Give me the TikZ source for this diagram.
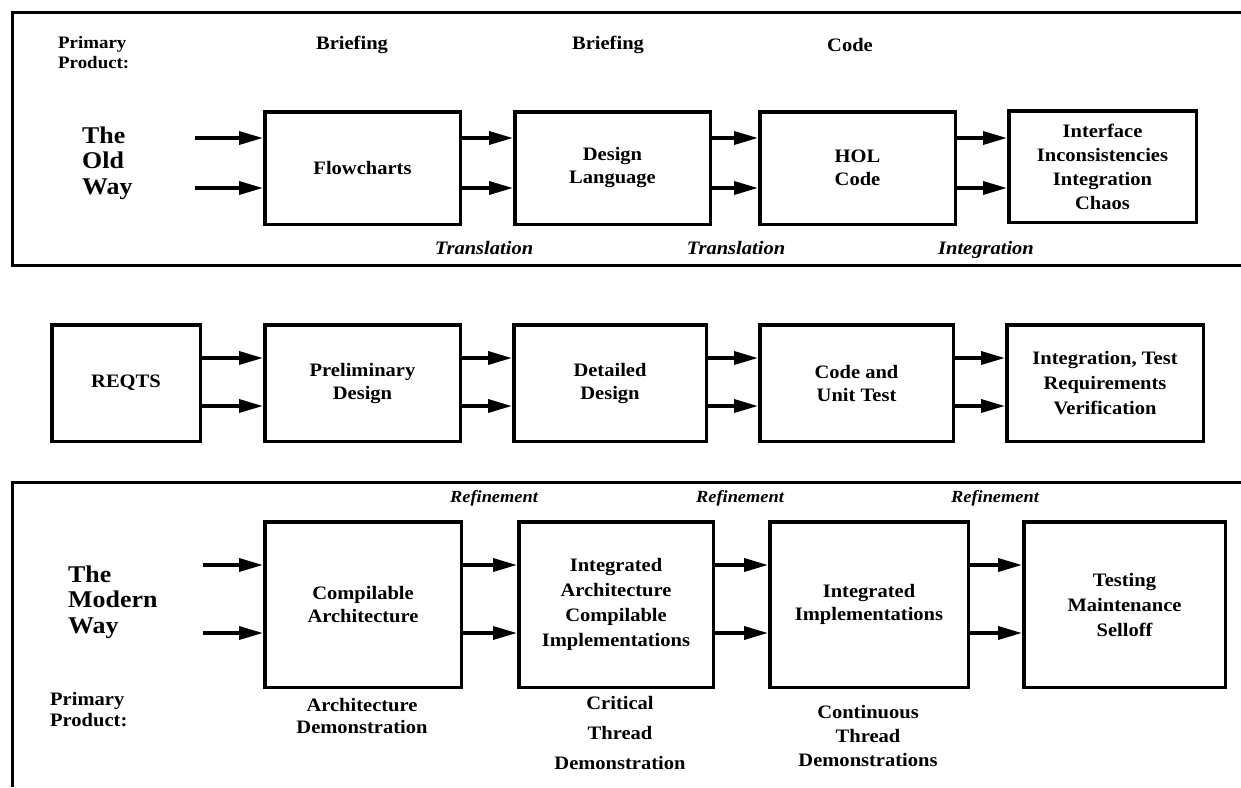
\documentclass[tikz,border=0pt]{standalone}
\usepackage{fontspec}
\setmainfont{Liberation Serif}[FakeStretch=1.08]
\usetikzlibrary{arrows.meta}
\newcommand\boxfont{\fontsize{19}{23}\selectfont\bfseries}
\newcommand\itfont{\fontsize{19}{23}\selectfont\bfseries\itshape}
\newcommand\reffont{\fontsize{17}{20}\selectfont\bfseries\itshape}
\newcommand\wayfont{\fontsize{24}{25.5}\selectfont\bfseries}
\begin{document}
\begin{tikzpicture}[x=1pt,y=-1pt,
  box/.style={draw, line width=3.5pt, inner sep=0pt, align=center, font=\boxfont},
  lbl/.style={inner sep=0pt, align=center, font=\boxfont},
  itl/.style={inner sep=0pt, font=\itfont},
  ref/.style={inner sep=0pt, font=\reffont},
  way/.style={inner sep=0pt, align=left, anchor=west, font=\wayfont},
  frame/.style={line width=3pt},
  arr/.style={line width=3.5pt, -{Triangle[length=24pt,width=13pt]}}]
\useasboundingbox (0,0) rectangle (1241,787);
% frames
\draw[frame] (1241,12) -- (12,12) -- (12,265) -- (1241,265);
\draw[frame] (1241,482) -- (12,482) -- (12,787);
% row coordinates
\coordinate (r1a) at (0,138);
\coordinate (r1b) at (0,188);
\coordinate (r2a) at (0,358);
\coordinate (r2b) at (0,406);
\coordinate (r3a) at (0,565);
\coordinate (r3b) at (0,633);
\coordinate (in1a) at (195,138);
\coordinate (in1b) at (195,188);
\coordinate (in3a) at (203,565);
\coordinate (in3b) at (203,633);
% top row
\node[box, minimum width=195.5pt, minimum height=112.5pt] (flow) at (362.5,168) {Flowcharts};
\node[box, minimum width=195.5pt, minimum height=112.5pt] (dl) at (612.5,168) {Design\\Language};
\node[box, minimum width=195.5pt, minimum height=112.5pt] (hol) at (857.5,168) {HOL\\Code};
\node[box, minimum width=187.5pt, minimum height=111.5pt, font=\fontsize{19}{24}\selectfont\bfseries] (intf) at (1102.5,166.5) {Interface\\Inconsistencies\\Integration\\Chaos};
% middle row
\node[box, minimum width=148.5pt, minimum height=116.5pt] (reqts) at (126,383) {REQTS};
\node[box, minimum width=195.5pt, minimum height=116.5pt] (prel) at (362.5,383) {Preliminary\\Design};
\node[box, minimum width=192.5pt, minimum height=116.5pt] (det) at (610,383) {Detailed\\Design};
\node[box, minimum width=193.5pt, minimum height=116.5pt] (cut) at (856.5,383) {Code and\\Unit Test};
\node[box, minimum width=196.5pt, minimum height=116.5pt, font=\fontsize{19}{25}\selectfont\bfseries] (itr) at (1105,383) {Integration, Test\\Requirements\\Verification};
% bottom row
\node[box, minimum width=196.5pt, minimum height=165.5pt] (comp) at (363,604.5) {Compilable\\Architecture};
\node[box, minimum width=194.5pt, minimum height=165.5pt, font=\fontsize{19}{25}\selectfont\bfseries] (iac) at (616,604.5) {Integrated\\Architecture\\Compilable\\Implementations};
\node[box, minimum width=198.5pt, minimum height=165.5pt] (ii) at (869,604.5) {Integrated\\Implementations};
\node[box, minimum width=201.5pt, minimum height=165.5pt, font=\fontsize{19}{25}\selectfont\bfseries] (tms) at (1124.5,604.5) {Testing\\Maintenance\\Selloff};
% top labels
\node[lbl, align=left, anchor=west, font=\fontsize{17.5}{20}\selectfont\bfseries] (prod1) at (58,53) {Primary\\Product:};
\node[lbl] (brief1) at (352,45) {Briefing};
\node[lbl] (brief2) at (608,45) {Briefing};
\node[lbl] (code) at (850,45) {Code};
\node[way] (old) at (82,163) {The\\Old\\Way};
\node[itl] (tr1) at (484,248) {Translation};
\node[itl] (tr2) at (736,248) {Translation};
\node[itl] (integ) at (986,249.5) {Integration};
% bottom labels
\node[ref] (rf1) at (494,498) {Refinement};
\node[ref] (rf2) at (740,498) {Refinement};
\node[ref] (rf3) at (995,498) {Refinement};
\node[way] (modern) at (68,602) {The\\Modern\\Way};
\node[lbl, align=left, anchor=west, font=\fontsize{19}{21}\selectfont\bfseries] (prod2) at (50,710) {Primary\\Product:};
\node[lbl, font=\fontsize{19}{22}\selectfont\bfseries] (archd) at (362,716) {Architecture\\Demonstration};
\node[lbl, font=\fontsize{19}{30}\selectfont\bfseries] (crit) at (620,733) {Critical\\Thread\\Demonstration};
\node[lbl, font=\fontsize{19}{24}\selectfont\bfseries] (cont) at (868,736) {Continuous\\Thread\\Demonstrations};
% arrows top
\draw[arr] (in1a) -- (flow.west |- r1a);
\draw[arr] (in1b) -- (flow.west |- r1b);
\draw[arr] (flow.east |- r1a) -- (dl.west |- r1a);
\draw[arr] (flow.east |- r1b) -- (dl.west |- r1b);
\draw[arr] (dl.east |- r1a) -- (hol.west |- r1a);
\draw[arr] (dl.east |- r1b) -- (hol.west |- r1b);
\draw[arr] (hol.east |- r1a) -- (intf.west |- r1a);
\draw[arr] (hol.east |- r1b) -- (intf.west |- r1b);
% arrows middle
\draw[arr] (reqts.east |- r2a) -- (prel.west |- r2a);
\draw[arr] (reqts.east |- r2b) -- (prel.west |- r2b);
\draw[arr] (prel.east |- r2a) -- (det.west |- r2a);
\draw[arr] (prel.east |- r2b) -- (det.west |- r2b);
\draw[arr] (det.east |- r2a) -- (cut.west |- r2a);
\draw[arr] (det.east |- r2b) -- (cut.west |- r2b);
\draw[arr] (cut.east |- r2a) -- (itr.west |- r2a);
\draw[arr] (cut.east |- r2b) -- (itr.west |- r2b);
% arrows bottom
\draw[arr] (in3a) -- (comp.west |- r3a);
\draw[arr] (in3b) -- (comp.west |- r3b);
\draw[arr] (comp.east |- r3a) -- (iac.west |- r3a);
\draw[arr] (comp.east |- r3b) -- (iac.west |- r3b);
\draw[arr] (iac.east |- r3a) -- (ii.west |- r3a);
\draw[arr] (iac.east |- r3b) -- (ii.west |- r3b);
\draw[arr] (ii.east |- r3a) -- (tms.west |- r3a);
\draw[arr] (ii.east |- r3b) -- (tms.west |- r3b);
\end{tikzpicture}
\end{document}
